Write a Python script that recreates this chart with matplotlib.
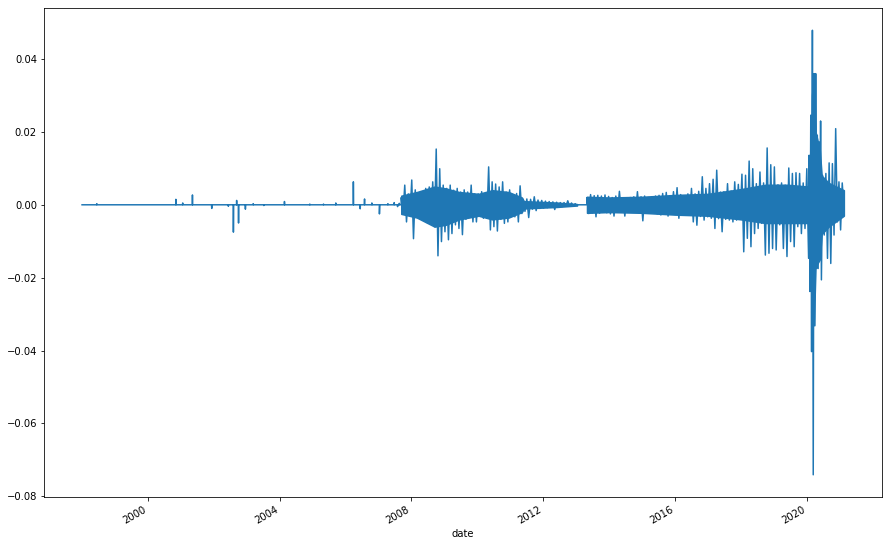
import numpy as np
import pandas as pd
import matplotlib
matplotlib.use("Agg")
import matplotlib.pyplot as plt

# quiet years: flat at zero with a few isolated moves (values in 1e-3)
spike_dates = ['1998-06-15', '2000-11-07', '2001-01-22', '2001-05-10', '2001-12-10',
               '2002-06-12', '2002-08-07', '2002-09-12', '2002-10-03', '2002-12-18',
               '2003-03-14', '2003-07-10', '2004-02-24', '2004-12-01', '2005-05-02',
               '2005-09-15', '2006-03-29', '2006-06-13', '2006-07-31', '2006-10-20',
               '2007-01-12', '2007-04-16', '2007-06-25', '2007-08-01', '2007-08-20']
spike_vals = [0.3, 1.5, 0.5, 2.7, -1.0,
              -0.4, -7.5, 1.2, -5.0, -1.2,
              0.3, -0.2, 0.9, 0.2, 0.2,
              0.5, 6.3, -1.1, 1.6, 0.5,
              -2.5, 0.3, 0.6, -0.5, 0.4]

# 2007-09 .. 2011-05 (financial crisis period), alternating highs / lows
crisis_vals = [2.0, -2.5, 5.4, -4.7, 3.0, -3.0, 6.8, -9.3, 4.1, -2.8,
               3.1, -2.5, 2.6, -3.3, 4.5, -5.0, 4.9, -4.7, 6.3, -6.0,
               15.3, -14.0, 9.9, -10.1, 5.4, -7.4, 4.5, -9.6, 5.4, -7.9,
               4.0, -5.5, 4.5, -6.5, 3.5, -8.2, 4.1, -4.0, 3.5, -3.5,
               5.4, -4.7, 3.0, -4.7, 3.0, -3.0, 3.6, -3.7, 3.0, -3.7,
               10.4, -6.9, 6.3, -6.0, 5.7, -7.2, 4.9, -4.0, 6.3, -5.1,
               3.5, -4.7, 4.1, -3.0, 2.7, -3.3, 3.1, -4.7, 5.2, -2.4]

# 2011-05 .. 2013-01 (calm)
calm_vals = [1.5, -1.8, 1.6, -3.5, 1.5, -1.2, 2.2, -1.6, 1.3, -1.0,
             1.2, -0.9, 1.0, -0.8, 0.9, -0.7, 0.8, -1.3, 0.7, -0.6,
             0.6, -0.5, 0.6, -0.4, 1.1, -0.4, 0.5, -0.3, 0.3, -0.2]

# 2013-05 .. 2020-01
recent_vals = [2.0, -2.4, 2.8, -2.2, 2.5, -3.3, 2.6, -2.3, 2.4, -2.0,
               2.7, -2.2, 2.3, -2.5, 2.0, -3.1, 2.4, -1.8, 3.7, -1.9,
               1.7, -3.1, 1.8, -1.9, 2.0, -1.7, 2.2, -2.0, 3.6, -2.1,
               2.2, -4.4, 2.4, -2.2, 2.0, -2.3, 2.2, -2.0, 2.4, -2.5,
               2.6, -2.8, 3.1, -2.4, 3.4, -3.1, 2.5, -2.6, 3.6, -2.4,
               4.7, -3.7, 2.8, -2.4, 2.2, -2.6, 3.0, -2.8, 4.5, -4.7,
               3.0, -5.6, 3.7, -3.2, 7.7, -4.2, 4.5, -3.3, 5.8, -3.7,
               7.0, -6.5, 9.5, -3.8, 3.5, -7.4, 3.6, -4.0, 5.8, -4.2,
               3.8, -4.7, 6.3, -4.2, 5.6, -3.8, 8.4, -12.9, 8.1, -9.2,
               12.0, -11.5, 9.9, -7.9, 5.8, -6.5, 9.0, -5.1, 6.0, -13.8,
               15.6, -13.3, 11.0, -12.0, 10.4, -12.4, 5.5, -5.5, 6.0, -12.0,
               5.4, -14.2, 10.1, -10.1, 8.6, -11.5, 8.8, -6.0, 8.6, -7.9,
               6.0, -6.5, 9.9, -14.7]

# 2020-02 .. 2020-06 (covid shock)
covid_vals = [13.6, -23.8, 24.6, -40.3, 47.9, -74.1, 36.0, -33.2,
              36.0, -17.5, 19.1, -17.5, 17.3, -12.4, 23.0, -20.6]

# 2020-06 .. 2021-02
late_vals = [8.1, -8.3, 8.6, -14.7, 11.5, -16.1, 11.3, -8.3,
             20.9, -4.7, 6.3, -6.9, 6.0, -1.0]

# solid core of the dense daily noise (upper / lower edge, 1e-3)
core1_dates = ['2007-09-11', '2008-03-01', '2008-09-15', '2009-01-15', '2009-06-15',
               '2010-01-15', '2010-06-15', '2010-12-15', '2011-05-10', '2011-06-01',
               '2012-06-01', '2013-01-11']
core1_hi = [2.5, 3.5, 5.0, 4.5, 3.5, 3.0, 4.0, 3.5, 2.0, 1.0, 0.6, 0.2]
core1_lo = [-2.5, -3.5, -6.0, -5.5, -4.0, -3.0, -4.0, -3.5, -2.0, -1.0, -0.6, -0.2]

core2_dates = ['2013-05-01', '2014-01-01', '2015-01-01', '2016-01-01', '2017-01-01',
               '2018-01-01', '2018-10-01', '2019-06-01', '2020-01-20', '2020-02-18',
               '2020-02-28', '2020-03-20', '2020-04-08', '2020-05-25', '2020-06-15',
               '2020-09-01', '2021-02-16']
core2_hi = [2.2, 2.0, 2.2, 2.7, 3.0, 4.3, 5.5, 5.5, 5.0, 8.0,
            30.0, 36.0, 20.0, 15.0, 8.0, 6.0, 4.0]
core2_lo = [-2.2, -2.0, -2.2, -2.7, -3.0, -4.0, -5.0, -5.0, -5.0, -10.0,
            -25.0, -33.0, -17.0, -15.0, -8.0, -6.0, -3.0]


def segment(vals, start, end):
    return pd.Series(np.array(vals) / 1000, index=pd.date_range(start, end, periods=len(vals)))


quiet = pd.Series(0.0, index=pd.bdate_range('1998-01-02', '2007-09-10'))
spikes = pd.Series(np.array(spike_vals) / 1000, index=pd.to_datetime(spike_dates))
quiet = quiet.drop(spikes.index, errors='ignore')
gap = pd.Series(0.0, index=pd.bdate_range('2013-01-14', '2013-04-30'))

s = pd.concat([quiet, spikes,
               segment(crisis_vals, '2007-09-11', '2011-05-10'),
               segment(calm_vals, '2011-05-24', '2013-01-11'),
               gap,
               segment(recent_vals, '2013-05-01', '2020-01-22'),
               segment(covid_vals, '2020-01-28', '2020-06-12'),
               segment(late_vals, '2020-06-25', '2021-02-16')]).sort_index()
s.index.name = 'date'

fig, ax = plt.subplots(figsize=(888 / 72, 546 / 72), dpi=72)
for d, hi, lo in [(core1_dates, core1_hi, core1_lo), (core2_dates, core2_hi, core2_lo)]:
    ax.fill_between(pd.to_datetime(d), np.array(lo) / 1000, np.array(hi) / 1000,
                    color='#1f77b4', lw=1.5)
ax.plot(s.index, s.values, color='#1f77b4', lw=1.5)
fig.autofmt_xdate()
ax.set_xlabel('date')
fig.subplots_adjust(left=0.0495, right=0.9932, top=0.9853, bottom=0.0897)
fig.savefig('out.png', dpi=72)
